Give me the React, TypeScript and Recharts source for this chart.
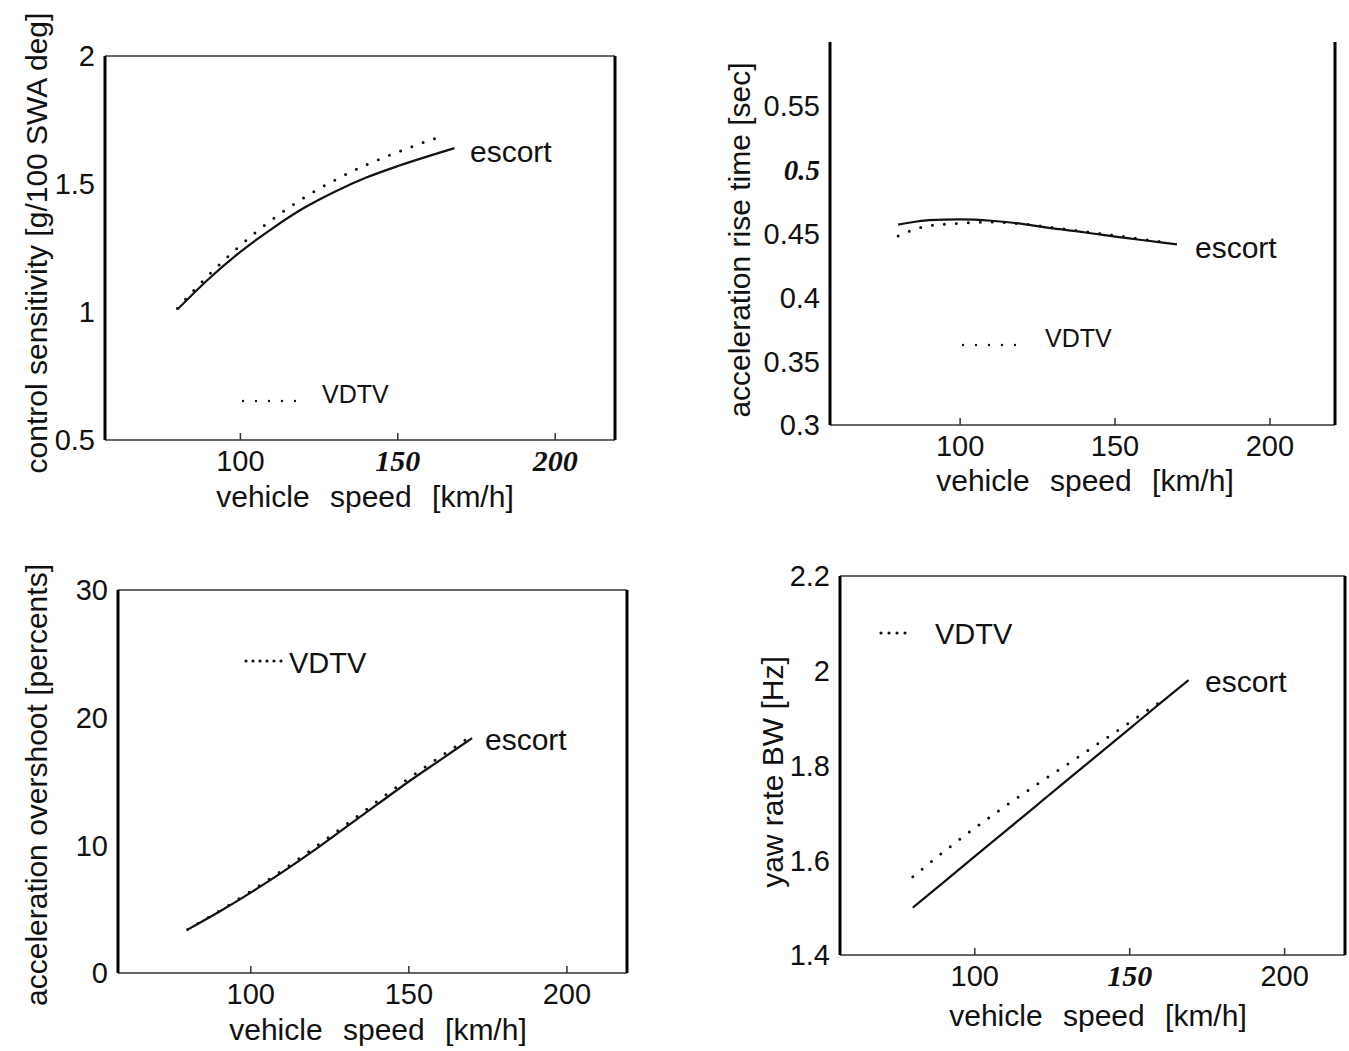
import React from 'react';
import { LineChart, Line, XAxis, YAxis } from 'recharts';

const SANS = '"Liberation Sans", Arial, Helvetica, sans-serif';
const SERIF = '"Liberation Serif", "Times New Roman", serif';

const speedTicks = [100, 150, 200];

// control sensitivity [g/100 SWA deg]
const sensSpeedEscort = [80, 90, 100, 110, 120, 130, 140, 150, 160, 168];
const sensEscort = [1.01, 1.13, 1.235, 1.325, 1.405, 1.47, 1.525, 1.57, 1.61, 1.64];
const sensSpeedVdtv = [80, 90, 100, 110, 120, 130, 140, 150, 160, 165];
const sensVdtv = [1.015, 1.145, 1.26, 1.36, 1.445, 1.515, 1.575, 1.625, 1.67, 1.69];
const sensTicks = [0.5, 1, 1.5, 2];

// acceleration rise time [sec]
const riseSpeedEscort = [80, 85, 90, 100, 110, 120, 130, 140, 150, 160, 170];
const riseEscort = [0.457, 0.459, 0.4605, 0.461, 0.46, 0.4575, 0.454, 0.451, 0.4475, 0.4445, 0.4415];
const riseSpeedVdtv = [80, 85, 90, 100, 110, 120, 130, 140, 150, 160, 168];
const riseVdtv = [0.448, 0.453, 0.456, 0.458, 0.459, 0.4575, 0.4545, 0.4515, 0.4485, 0.445, 0.4425];
const riseTicks = [0.3, 0.35, 0.4, 0.45, 0.5, 0.55];

// acceleration overshoot [percents]
const overSpeed = [80, 90, 100, 110, 120, 130, 140, 150, 160, 170];
const overEscort = [3.4, 4.8, 6.3, 7.9, 9.6, 11.4, 13.2, 15.0, 16.7, 18.4];
const overVdtv = [3.4, 4.85, 6.4, 8.05, 9.8, 11.6, 13.45, 15.25, 16.95, 18.6];
const overTicks = [0, 10, 20, 30];

// yaw rate BW [Hz]
const yawSpeedEscort = [80, 90, 100, 110, 120, 130, 140, 150, 160, 169];
const yawEscort = [1.5, 1.554, 1.608, 1.662, 1.716, 1.77, 1.824, 1.878, 1.932, 1.98];
const yawSpeedVdtv = [80, 90, 100, 110, 120, 130, 140, 150, 160];
const yawVdtv = [1.565, 1.618, 1.668, 1.715, 1.76, 1.803, 1.847, 1.891, 1.935];
const yawTicks = [1.4, 1.6, 1.8, 2, 2.2];

const pts = (xs: number[], ys: number[]) => xs.map((x, i) => ({ x, y: ys[i] }));

type PanelCfg = {
  left: number;
  top: number;
  width: number;
  height: number;
  plotLeft: number;
  plotTop: number;
  right: number;
  xAxisH: number;
  xDomain: [number, number];
  yDomain: [number, number];
  yTicks: number[];
  topAxis: boolean;
  italicX?: number[];
  italicY?: number[];
  escort: { x: number; y: number }[];
  vdtv: { x: number; y: number }[];
};

const SpeedTick = (props: any) => {
  const { x, y, payload, italic } = props;
  const it = italic && italic.includes(payload.value);
  return (
    <g>
      <line x1={x} x2={x} y1={y} y2={y - 7} stroke="#333" strokeWidth={1.5} />
      <text
        x={x}
        y={y + 31}
        textAnchor="middle"
        fontFamily={it ? SERIF : SANS}
        fontStyle={it ? 'italic' : 'normal'}
        fontWeight={it ? 700 : 400}
        fontSize={it ? 30 : 29}
        fill="#111"
      >
        {payload.value}
      </text>
    </g>
  );
};

const ValueTick = (props: any) => {
  const { x, y, payload, italic } = props;
  const it = italic && italic.includes(payload.value);
  return (
    <text
      x={x - 10}
      y={y}
      dy="0.36em"
      textAnchor="end"
      fontFamily={it ? SERIF : SANS}
      fontStyle={it ? 'italic' : 'normal'}
      fontWeight={it ? 700 : 400}
      fontSize={29}
      fill="#111"
    >
      {payload.value}
    </text>
  );
};

function Panel({ cfg }: { cfg: PanelCfg }) {
  return (
    <div style={{ position: 'absolute', left: cfg.left, top: cfg.top }}>
      <LineChart
        width={cfg.width}
        height={cfg.height}
        margin={{ top: cfg.plotTop - 2, right: cfg.right - 2, bottom: 0, left: 0 }}
      >
        <XAxis
          xAxisId="b"
          type="number"
          dataKey="x"
          domain={cfg.xDomain}
          ticks={speedTicks}
          allowDataOverflow
          height={cfg.xAxisH}
          tickLine={false}
          tickSize={0}
          tickMargin={0}
          axisLine={{ stroke: '#333', strokeWidth: 1.5 }}
          tick={(p: any) => <SpeedTick {...p} italic={cfg.italicX} />}
        />
        <XAxis
          xAxisId="t"
          orientation="top"
          type="number"
          dataKey="x"
          domain={cfg.xDomain}
          ticks={speedTicks}
          allowDataOverflow
          height={2}
          mirror
          tick={false}
          tickSize={7}
          tickLine={cfg.topAxis ? { stroke: '#333', strokeWidth: 1.5 } : false}
          axisLine={cfg.topAxis ? { stroke: '#333', strokeWidth: 1.5 } : false}
        />
        <YAxis
          yAxisId="l"
          type="number"
          domain={cfg.yDomain}
          ticks={cfg.yTicks}
          allowDataOverflow
          width={cfg.plotLeft}
          tickLine={false}
          tickSize={0}
          tickMargin={0}
          axisLine={{ stroke: '#000', strokeWidth: 3 }}
          tick={(p: any) => <ValueTick {...p} italic={cfg.italicY} />}
        />
        <YAxis
          yAxisId="r"
          orientation="right"
          type="number"
          domain={cfg.yDomain}
          allowDataOverflow
          width={2}
          tick={false}
          tickLine={false}
          axisLine={{ stroke: '#000', strokeWidth: 3 }}
        />
        <Line
          xAxisId="b"
          yAxisId="l"
          data={cfg.vdtv}
          dataKey="y"
          type="monotone"
          stroke="#111"
          strokeWidth={3}
          strokeDasharray="0 12"
          strokeLinecap="round"
          dot={false}
          isAnimationActive={false}
        />
        <Line
          xAxisId="b"
          yAxisId="l"
          data={cfg.escort}
          dataKey="y"
          type="monotone"
          stroke="#111"
          strokeWidth={2.2}
          dot={false}
          isAnimationActive={false}
        />
      </LineChart>
    </div>
  );
}

const panels: PanelCfg[] = [
  {
    left: 0, top: 0, width: 640, height: 520,
    plotLeft: 105, plotTop: 58, right: 25, xAxisH: 80,
    xDomain: [57, 219], yDomain: [0.5, 2], yTicks: sensTicks,
    topAxis: true, italicX: [150, 200],
    escort: pts(sensSpeedEscort, sensEscort),
    vdtv: pts(sensSpeedVdtv, sensVdtv),
  },
  {
    left: 660, top: 0, width: 689, height: 520,
    plotLeft: 170, plotTop: 44, right: 14, xAxisH: 95,
    xDomain: [58, 221], yDomain: [0.3, 0.6], yTicks: riseTicks,
    topAxis: false, italicY: [0.5],
    escort: pts(riseSpeedEscort, riseEscort),
    vdtv: pts(riseSpeedVdtv, riseVdtv),
  },
  {
    left: 0, top: 540, width: 640, height: 511,
    plotLeft: 118, plotTop: 52, right: 13, xAxisH: 78,
    xDomain: [58, 219], yDomain: [0, 30], yTicks: overTicks,
    topAxis: true,
    escort: pts(overSpeed, overEscort),
    vdtv: pts(overSpeed, overVdtv),
  },
  {
    left: 660, top: 540, width: 689, height: 511,
    plotLeft: 180, plotTop: 38, right: 4, xAxisH: 96,
    xDomain: [56.5, 219.5], yDomain: [1.4, 2.2], yTicks: yawTicks,
    topAxis: true, italicX: [150],
    escort: pts(yawSpeedEscort, yawEscort),
    vdtv: pts(yawSpeedVdtv, yawVdtv),
  },
];

const titleStyle = { fontFamily: SANS, fontSize: 30, fill: '#111', wordSpacing: 12 } as const;
const noteStyle = { fontFamily: SANS, fill: '#111' } as const;

// axis titles and in-plot series labels
function Annotations() {
  const dots = (x1: number, x2: number, y: number, gap: number, w: number) => (
    <line x1={x1} x2={x2} y1={y} y2={y} stroke="#111" strokeWidth={w}
      strokeDasharray={`0 ${gap}`} strokeLinecap="round" />
  );
  return (
    <svg width={1349} height={1051}
      style={{ position: 'absolute', left: 0, top: 0, pointerEvents: 'none' }}>
      {/* x titles */}
      <text x={365} y={507} textAnchor="middle" style={titleStyle}>vehicle speed [km/h]</text>
      <text x={1085} y={491} textAnchor="middle" style={titleStyle}>vehicle speed [km/h]</text>
      <text x={378} y={1040} textAnchor="middle" style={titleStyle}>vehicle speed [km/h]</text>
      <text x={1098} y={1026} textAnchor="middle" style={titleStyle}>vehicle speed [km/h]</text>

      {/* y titles */}
      <text transform="translate(36,243) rotate(-90)" textAnchor="middle" dominantBaseline="central"
        style={{ ...titleStyle, wordSpacing: 0 }}>control sensitivity [g/100 SWA deg]</text>
      <text transform="translate(739,240) rotate(-90)" textAnchor="middle" dominantBaseline="central"
        style={{ ...titleStyle, wordSpacing: 0 }}>acceleration rise time [sec]</text>
      <text transform="translate(36,785) rotate(-90)" textAnchor="middle" dominantBaseline="central"
        style={{ ...titleStyle, wordSpacing: 0 }}>acceleration overshoot [percents]</text>
      <text transform="translate(772,772) rotate(-90)" textAnchor="middle" dominantBaseline="central"
        style={{ ...titleStyle, wordSpacing: 0 }}>yaw rate BW [Hz]</text>

      {/* series labels */}
      <text x={470} y={162} fontSize={30} style={noteStyle}>escort</text>
      {dots(243, 308, 401, 13, 2.4)}
      <text x={322} y={403} fontSize={25} style={noteStyle}>VDTV</text>

      <text x={1195} y={258} fontSize={30} style={noteStyle}>escort</text>
      {dots(963, 1028, 345, 13, 2.4)}
      <text x={1045} y={347} fontSize={25} style={noteStyle}>VDTV</text>

      {dots(246, 286, 661, 7, 3.2)}
      <text x={289} y={673} fontSize={29} style={noteStyle}>VDTV</text>
      <text x={485} y={750} fontSize={30} style={noteStyle}>escort</text>

      {dots(881, 913, 633, 8, 3.2)}
      <text x={935} y={644} fontSize={29} style={noteStyle}>VDTV</text>
      <text x={1205} y={692} fontSize={30} style={noteStyle}>escort</text>
    </svg>
  );
}

export default function App() {
  return (
    <div style={{ position: 'absolute', left: 0, top: 0, width: 1349, height: 1051, background: '#fff' }}>
      {panels.map((cfg, i) => (
        <Panel key={i} cfg={cfg} />
      ))}
      <Annotations />
    </div>
  );
}
